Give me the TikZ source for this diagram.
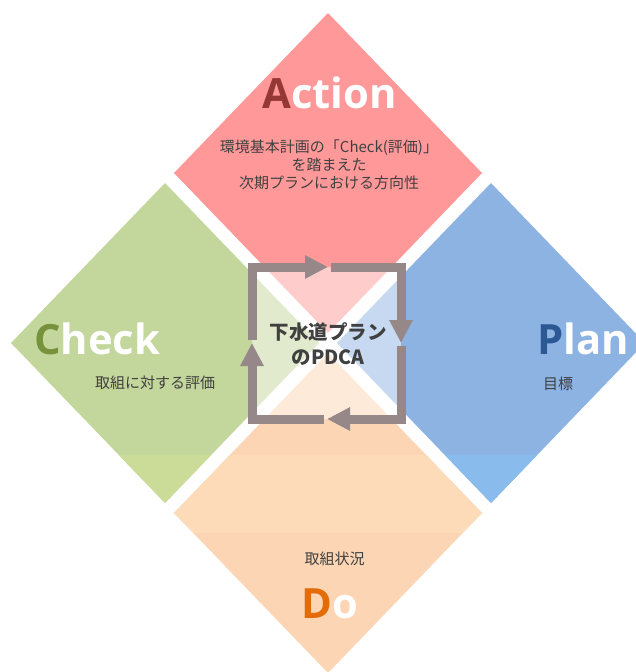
\documentclass[tikz,border=0pt]{standalone}
\usepackage{fontspec}
\usetikzlibrary{shapes.geometric,arrows.meta}
\newfontfamily\titlefont{Open Sans}
\newfontfamily\jpfont{Noto Sans CJK JP}
\definecolor{actfill}{HTML}{FF9999}
\definecolor{chkfill}{HTML}{C3D69B}
\definecolor{chkband}{HTML}{CBDC99}
\definecolor{plnfill}{HTML}{8DB3E2}
\definecolor{plnband}{HTML}{89BBEC}
\definecolor{dofill}{HTML}{FCD5B4}
\definecolor{doband}{HTML}{FDDAB8}
\definecolor{actdark}{HTML}{953735}
\definecolor{chkdark}{HTML}{76923C}
\definecolor{plndark}{HTML}{2C5894}
\definecolor{dodark}{HTML}{E36C09}
\definecolor{txtgray}{HTML}{404040}
\definecolor{framegray}{HTML}{968888}
\begin{document}
\begin{tikzpicture}[x=1pt,y=-1pt,
  petal/.style={diamond, minimum width=308pt, minimum height=320pt, inner sep=0pt, outer sep=0pt, draw=none},
  title/.style={font=\titlefont\bfseries\fontsize{41.7}{48}\selectfont, text=white, anchor=base, inner sep=0pt},
  body/.style={font=\jpfont\fontsize{15}{18}\selectfont, text=txtgray, align=center, inner sep=0pt},
  centertext/.style={font=\jpfont\bfseries\fontsize{19.5}{25}\selectfont, text=txtgray, align=center, inner sep=0pt},
  cycarrow/.style={draw=framegray, line width=9pt, -{Triangle[width=22pt,length=23pt]}}]
\useasboundingbox (0,0) rectangle (636,672);
% petals
\node[petal, fill=actfill] (act) at (328,173) {};
\node[petal, fill=chkfill] (chk) at (165,343) {};
\node[petal, fill=plnfill] (pln) at (491,343) {};
\node[petal, fill=dofill] (do) at (328,513) {};
% subtle bands
\begin{scope}
\clip (chk.north) -- (chk.east) -- (chk.south) -- (chk.west) -- cycle;
\fill[chkband] (0,455) rectangle (340,680);
\end{scope}
\begin{scope}
\clip (pln.north) -- (pln.east) -- (pln.south) -- (pln.west) -- cycle;
\fill[plnband] (300,455) rectangle (660,680);
\end{scope}
\begin{scope}
\clip (do.north) -- (do.east) -- (do.south) -- (do.west) -- cycle;
\fill[doband] (150,455) rectangle (500,533);
\end{scope}
% frame coordinates
\coordinate (fTL) at (252,267);
\coordinate (fTR) at (401,267);
\coordinate (fBR) at (401,419);
\coordinate (fBL) at (252,419);
\coordinate (mT) at (328,267);
\coordinate (mR) at (401,343);
\coordinate (mB) at (327,419);
\coordinate (mL) at (252,343);
\coordinate (sL) at (252,340);
\coordinate (sT) at (331,267);
\coordinate (sR) at (401,346);
\coordinate (sB) at (324,419);
% light overlay
\fill[white, fill opacity=0.5] (fTL) rectangle (fBR);
% cycle arrows
\draw[cycarrow] (sL) -- (fTL) -- (mT);
\draw[cycarrow] (sT) -- (fTR) -- (mR);
\draw[cycarrow] (sR) -- (fBR) -- (mB);
\draw[cycarrow] (sB) -- (fBL) -- (mL);
% titles
\node[title] (actT) at (329.5,108) {\textcolor{actdark}{A}ction};
\node[title] (chkT) at (97,354) {\textcolor{chkdark}{C}heck};
\node[title] (plnT) at (583,354) {\textcolor{plndark}{P}lan};
\node[title] (doT) at (330,618) {\textcolor{dodark}{D}o};
% body texts
\node[body] (actB) at (329,165) {環境基本計画の「Check(評価)」\\を踏まえた\\次期プランにおける方向性};
\node[body] (chkB) at (155,383) {取組に対する評価};
\node[body] (plnB) at (558,384) {目標};
\node[body] (doB) at (334.5,559) {取組状況};
\node[centertext] (ctr) at (328,344) {下水道プラン\\のPDCA};
\end{tikzpicture}
\end{document}
